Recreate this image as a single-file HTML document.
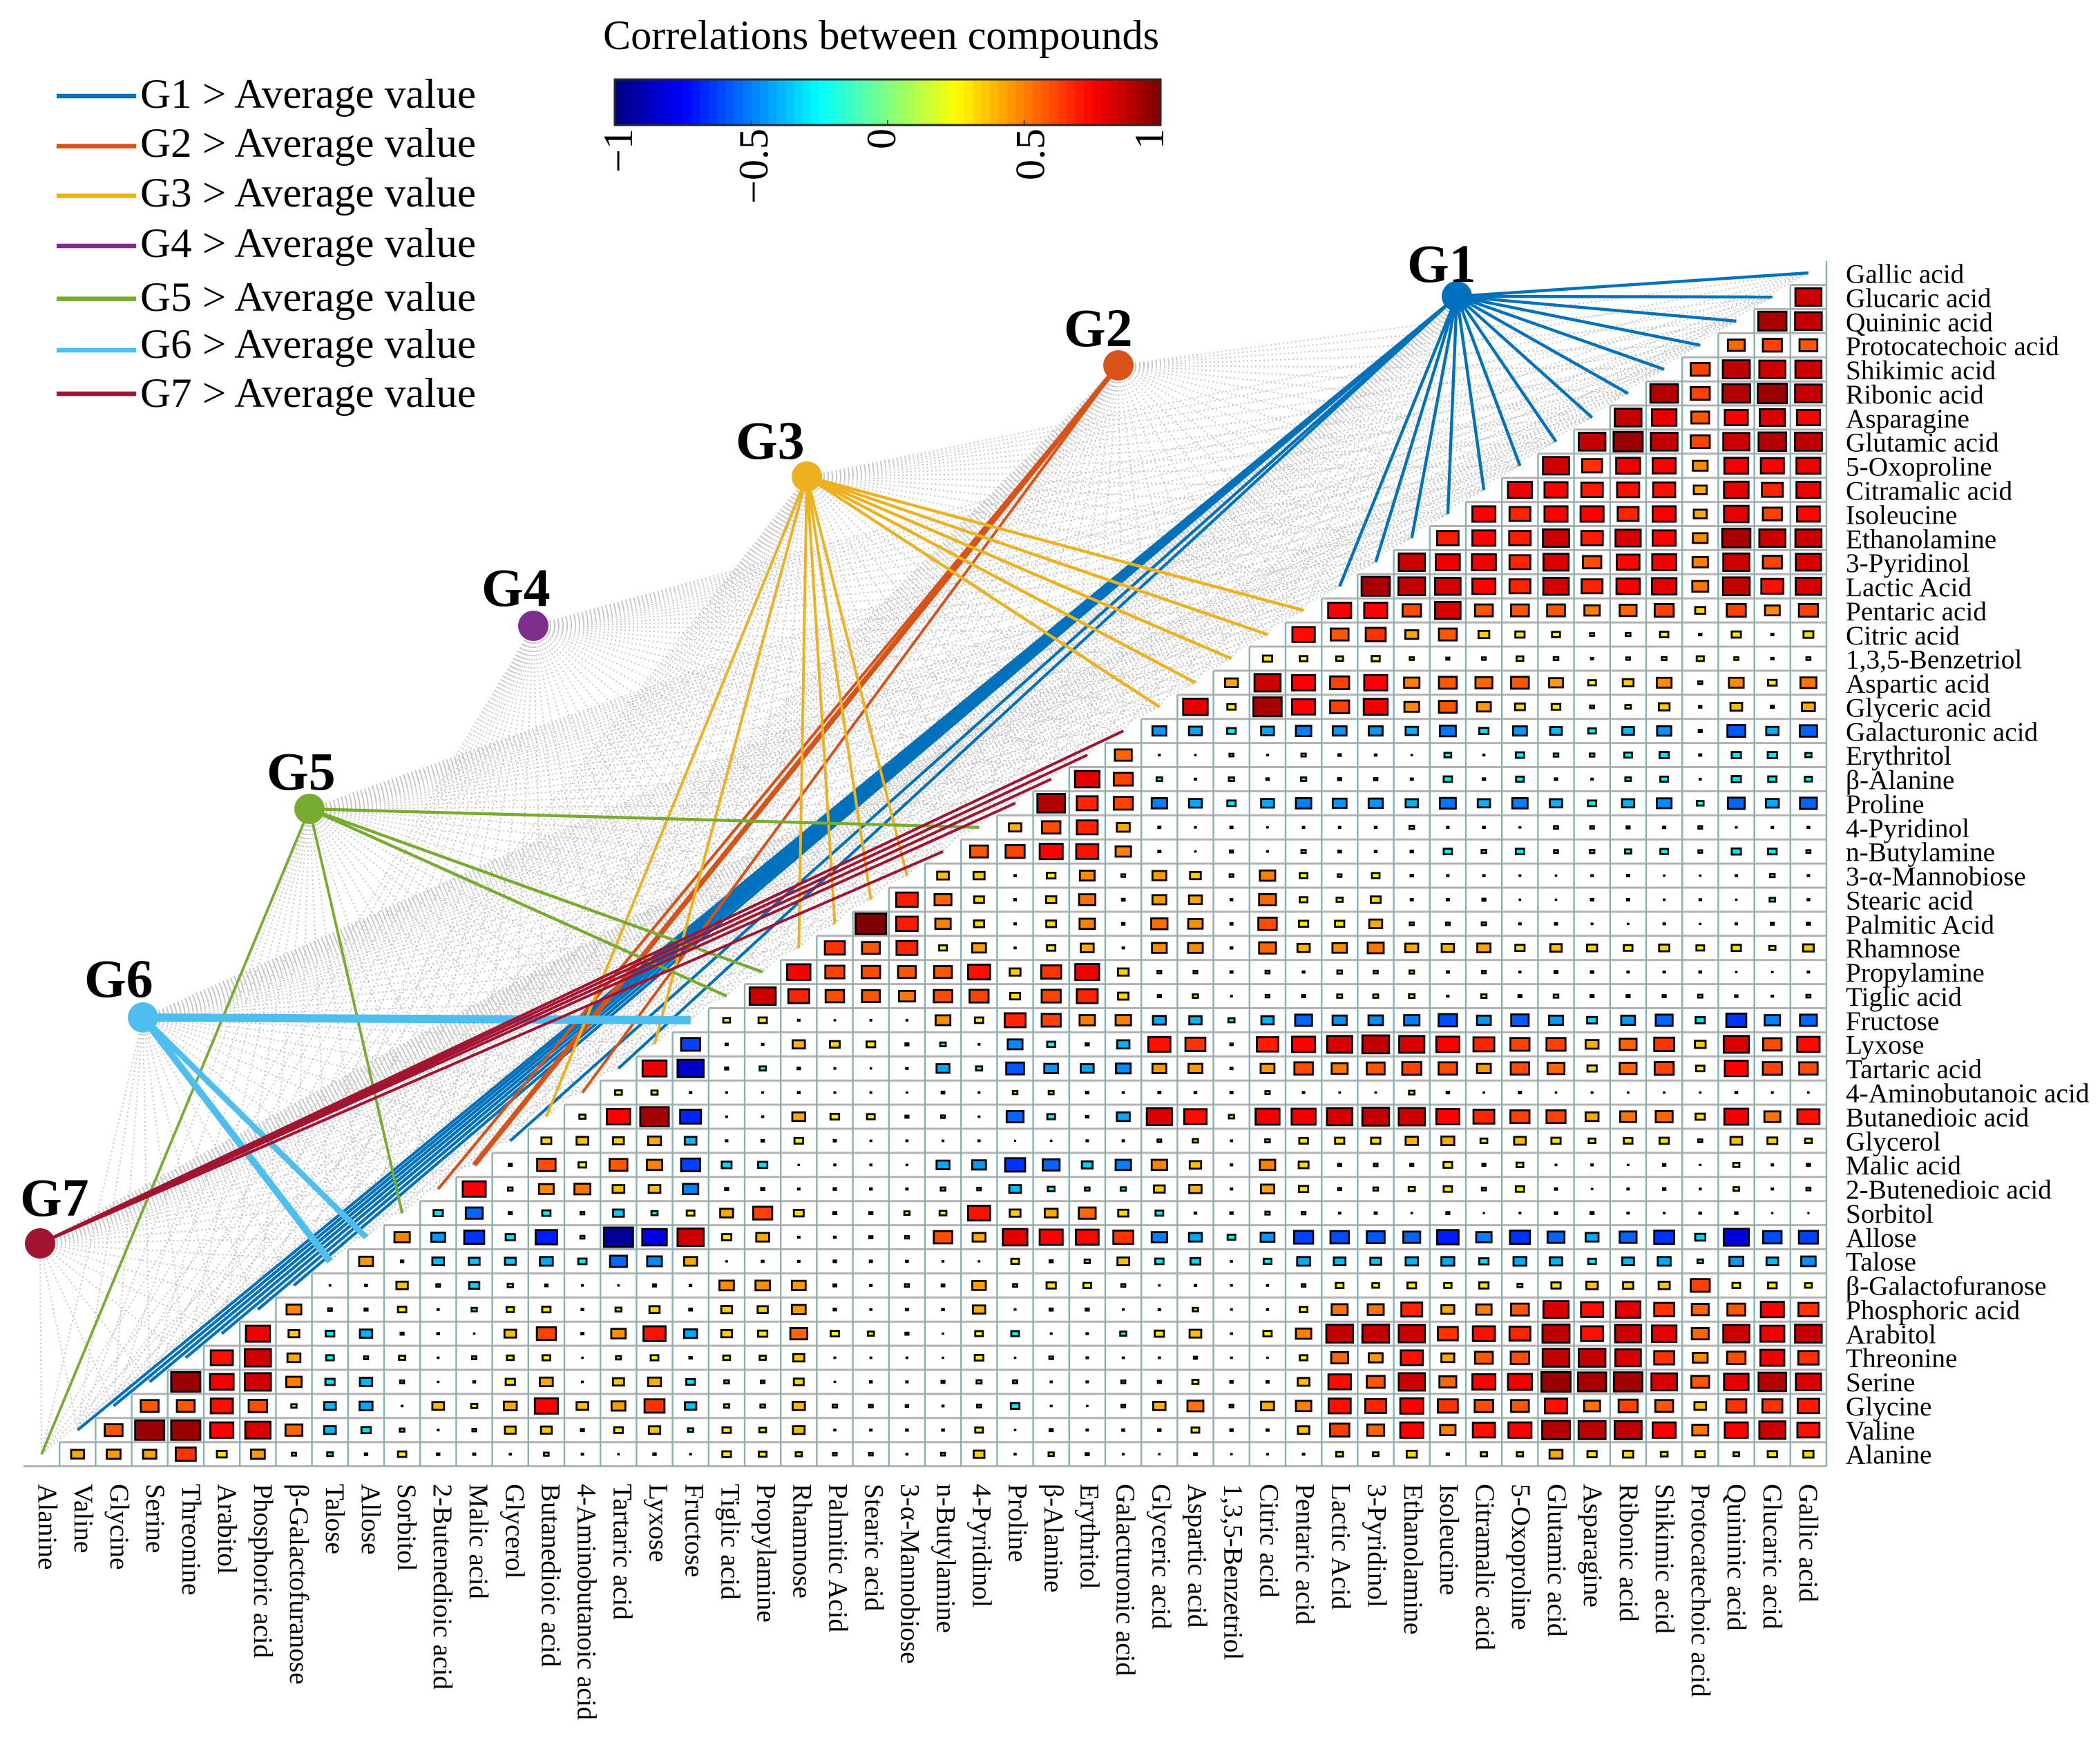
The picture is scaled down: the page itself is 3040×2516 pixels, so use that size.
<!DOCTYPE html>
<html lang="en">
<head>
<meta charset="utf-8">
<title>Correlations between compounds</title>
<style>
html,body{margin:0;padding:0;background:#fff}
svg{display:block}
text{font-family:"Liberation Serif",serif;fill:#000}
</style>
</head>
<body>
<svg id="chart" xmlns="http://www.w3.org/2000/svg" width="3040" height="2516" viewBox="0 0 3040 2516">
<rect x="0" y="0" width="3040" height="2516" fill="#fff"/>
<g id="grid"></g>
<g id="cells"></g>
<g id="dotted"></g>
<g id="links"></g>
<g id="nodes"></g>
<g id="xlabels"></g>
<g id="ylabels"></g>
<g id="legend"></g>
<g id="colorbar"></g>
<text x="873" y="71" font-size="60" textLength="805" lengthAdjust="spacingAndGlyphs">Correlations between compounds</text>
</svg>
<script>
const compounds = ["Alanine","Valine","Glycine","Serine","Threonine","Arabitol","Phosphoric acid","β-Galactofuranose","Talose","Allose","Sorbitol","2-Butenedioic acid","Malic acid","Glycerol","Butanedioic acid","4-Aminobutanoic acid","Tartaric acid","Lyxose","Fructose","Tiglic acid","Propylamine","Rhamnose","Palmitic Acid","Stearic acid","3-α-Mannobiose","n-Butylamine","4-Pyridinol","Proline","β-Alanine","Erythritol","Galacturonic acid","Glyceric acid","Aspartic acid","1,3,5-Benzetriol","Citric acid","Pentaric acid","Lactic Acid","3-Pyridinol","Ethanolamine","Isoleucine","Citramalic acid","5-Oxoproline","Glutamic acid","Asparagine","Ribonic acid","Shikimic acid","Protocatechoic acid","Quininic acid","Glucaric acid","Gallic acid"];

const corr00 = [.42,.45,.43,.65,.32,.45,.14,-.18,.08,.27,.08,.07,.04,.15,.05,.02,.08,.03,.28,.25,.2,.12,.12,.04,.13,.35,.04,.17,.1,.03,.02,.09,.02,.03,.05,.22,.18,.33,.08,.2,.2,.42,.3,.33,.22,.3,.18,.3,.33];
const corr01 = [.58,.95,.95,.75,.82,.55,-.38,-.3,.15,.03,-.12,.35,.35,.1,.28,.37,-.17,.27,.22,.38,.04,.05,.06,.06,.25,.02,.1,.05,.07,.08,.25,.08,.07,.37,.63,.55,.75,.5,.72,.75,.9,.88,.88,.75,.52,.75,.85,.72];
const corr02 = [.58,.58,.72,.6,.17,-.38,-.42,.03,.38,.2,.42,.75,.38,.45,.65,-.37,.17,.15,.4,.14,.12,.08,.04,.13,-.28,.03,.02,-.12,.4,.52,.12,.42,.5,.72,.68,.75,.65,.6,.58,.72,.52,.62,.58,.38,.65,.65,.7];
const corr03 = [.95,.77,.85,.5,-.3,-.4,.13,.02,.06,.3,.42,.03,.36,.42,-.28,.15,.12,.32,.02,.06,.05,-.1,.16,-.14,.04,.05,-.13,.1,.2,.08,.07,.38,.73,.58,.85,.55,.75,.78,.95,.92,.93,.83,.58,.8,.9,.82];
const corr04 = [.72,.85,.42,-.25,-.13,.2,.03,-.14,.22,.25,.02,.16,.25,.08,.22,.2,.36,.03,.03,.03,.02,.28,.02,.12,.05,.04,.04,.1,.03,.02,.25,.55,.45,.72,.42,.58,.6,.87,.87,.83,.65,.48,.6,.78,.66];
const corr05 = [.78,.35,-.28,-.4,.1,.06,.02,.38,.62,.07,.47,.72,-.42,.35,.3,.55,.27,.2,.1,.02,.25,-.25,.03,.05,-.2,.3,.38,.04,.27,.5,.87,.87,.85,.65,.72,.68,.88,.72,.85,.8,.55,.85,.78,.87];
const corr06 = [.48,-.12,-.1,.27,.04,-.17,.24,.27,.06,.19,.33,-.09,.35,.33,.45,.08,.04,.07,.06,.4,.03,.1,.1,.03,.05,.17,.03,.04,.25,.52,.52,.68,.42,.5,.58,.82,.72,.8,.65,.55,.58,.75,.65];
const corr07 = [.02,.06,.37,-.12,-.33,.17,.08,.03,.02,.1,.05,.47,.47,.45,.09,.05,.13,.09,.44,.13,.3,.25,.13,.02,.05,.03,.04,.12,.25,.22,.28,.24,.3,.16,.3,.37,.33,.36,.62,.25,.28,.22];
const corr08 = [.45,.08,-.38,-.35,-.35,-.42,-.27,-.55,-.48,.42,.02,.06,.05,-.08,-.07,-.06,.03,.02,.25,.1,.17,.38,-.27,-.32,.04,-.25,-.42,-.38,-.35,-.4,-.42,-.3,-.42,-.4,-.25,-.38,-.42,-.18,-.45,-.38,-.47];
const corr09 = [.5,-.45,-.65,-.3,-.7,-.13,-.95,-.8,.85,.3,.42,.05,.06,.1,.12,.6,.42,.8,.75,.74,.65,-.5,-.42,-.25,-.45,-.62,-.6,-.58,-.55,-.7,-.5,-.65,-.55,-.42,-.55,-.65,-.33,-.82,-.6,-.62];
const corr10 = [-.3,-.55,.1,-.27,-.12,-.35,-.2,.25,.42,.62,.32,.1,.1,.17,.22,.72,.35,.42,.55,.33,-.25,-.06,-.08,-.14,-.12,.05,.07,.02,-.1,.01,.03,.08,.1,.05,.03,.06,-.08,.01,.01];
const corr11 = [.75,.15,.48,.52,.38,.38,-.5,-.1,-.1,.05,.08,.06,.05,-.15,-.12,-.38,-.22,-.15,-.17,.35,.4,.05,.43,.3,.1,.15,.2,.27,.13,.27,.07,.02,.05,.08,.04,.18,.05,.13];
const corr12 = [.1,.6,.25,.58,.5,-.62,-.32,-.3,.02,.04,.04,.03,-.42,-.45,-.65,-.55,-.35,-.5,.5,.37,.05,.5,.32,.1,.12,.1,.28,.1,.22,.03,.05,.02,.08,.02,.2,.05,.1];
const corr13 = [.32,.38,.35,.42,-.38,.05,.08,.28,.07,.03,.04,.03,.04,.01,.02,.05,.05,.12,.17,.04,.15,.28,.3,.3,.4,.42,.22,.38,.3,.22,.28,.3,.13,.38,.32,.22];
const corr14 = [.2,.76,.93,-.68,.03,.04,.42,.28,.25,.1,-.12,.03,-.55,-.25,-.08,-.42,.82,.73,.17,.78,.78,.83,.87,.85,.75,.68,.62,.62,.42,.52,.55,.3,.78,.52,.72];
const corr15 = [.22,.2,.05,.03,.03,.06,.03,.03,.02,.09,.03,.15,.16,.08,.04,.07,.06,.07,.14,.05,.02,.02,.18,.08,.02,.07,.02,.03,.02,.02,.02,.06,.03,.02];
const corr16 = [.78,-.85,-.1,-.2,.08,.03,.02,.05,-.42,-.2,-.58,-.45,-.42,-.48,.45,.45,.07,.45,.6,.52,.58,.62,.6,.45,.6,.55,.3,.55,.62,.27,.75,.62,.6];
const corr17 = [-.62,.07,.05,.4,.32,.28,.1,-.18,.03,-.48,-.26,-.1,-.4,.72,.65,.08,.7,.75,.82,.87,.82,.75,.68,.62,.62,.42,.55,.65,.35,.82,.6,.73];
const corr18 = [.22,.27,.05,.02,.03,.03,.48,.27,.68,.62,.5,.5,-.42,-.4,-.2,-.4,-.55,-.46,-.47,-.5,-.6,-.45,-.57,-.45,-.32,-.45,-.55,-.3,-.65,-.5,-.55];
const corr19 = [.85,.68,.6,.58,.52,.6,.62,.32,.62,.68,.34,.1,.17,.03,.12,.1,.16,.16,.18,.05,.17,.1,.15,.1,.1,.1,.14,.08,.05,.13];
const corr20 = [.76,.62,.6,.58,.58,.72,.35,.65,.78,.35,.12,.12,.07,.13,.06,.15,.13,.15,.07,.12,.04,.1,.08,.05,.05,.06,.02,.02,.05];
const corr21 = [.65,.58,.68,.25,.45,.04,.27,.42,.05,.48,.48,.06,.55,.4,.47,.52,.42,.4,.43,.3,.37,.33,.28,.33,.25,.3,.2,.35];
const corr22 = [1,.7,.5,.33,.05,.32,.5,.08,.53,.47,.07,.6,.3,.3,.42,.13,.12,.14,.05,.07,.03,.02,.05,.02,.05,-.1,.1];
const corr23 = [.7,.55,.32,.06,.33,.53,.09,.45,.42,.06,.55,.25,.2,.32,.07,.07,.1,.02,.02,.08,.07,.03,.05,.02,-.18,.06];
const corr24 = [.38,.36,.05,.28,.48,.12,.45,.35,.12,.5,.25,.12,.25,.08,.05,.05,.03,.02,.05,.07,.02,.02,.05,-.15,.05];
const corr25 = [.58,.62,.75,.72,.5,.07,.02,-.1,.03,-.14,-.09,-.06,-.08,-.27,-.15,-.27,-.13,-.15,-.2,-.25,-.12,-.3,-.28,-.13];
const corr26 = [.4,.6,.68,.42,.07,.03,.07,.02,.05,.05,.06,.15,.05,.06,.03,.13,.12,.1,.07,.12,.03,.05,.06];
const corr27 = [.9,.68,.62,-.5,-.42,-.27,-.42,-.5,-.45,-.46,-.4,-.52,-.4,-.5,-.4,-.27,-.4,-.48,-.22,-.55,-.42,-.55];
const corr28 = [.8,.62,-.18,-.05,-.17,-.08,-.17,-.1,-.11,-.07,-.27,-.08,-.25,-.08,-.05,-.18,-.25,-.04,-.3,-.27,-.23];
const corr29 = [.55,.03,.02,-.13,.03,-.14,-.08,-.06,.02,-.22,.04,-.27,-.15,-.15,-.25,-.3,-.07,-.3,-.3,-.2];
const corr30 = [-.45,-.42,-.28,-.42,-.5,-.45,-.45,-.4,-.52,-.3,-.45,-.38,-.25,-.38,-.46,-.1,-.58,-.4,-.56];
const corr31 = [.8,.27,.92,.75,.62,.78,.48,.58,.45,.32,.28,.13,.18,.35,.08,.38,.1,.42];
const corr32 = [.42,.85,.75,.62,.75,.5,.58,.55,.58,.45,.25,.35,.48,.13,.48,.28,.52];
const corr33 = [.3,.25,.22,.26,.13,.1,.12,.22,.15,.07,.12,.15,.23,.13,.08,.13];
const corr34 = [.73,.58,.65,.42,.58,.35,.3,.26,.13,.15,.27,.08,.3,.07,.32];
const corr35 = [.75,.75,.6,.83,.58,.58,.58,.5,.55,.62,.33,.62,.48,.62];
const corr36 = [.92,.87,.83,.75,.68,.83,.68,.76,.8,.52,.87,.72,.83];
const corr37 = [.85,.78,.78,.68,.82,.6,.74,.78,.5,.85,.62,.82];
const corr38 = [.7,.75,.7,.85,.7,.82,.75,.48,.92,.85,.85];
const corr39 = [.75,.68,.75,.75,.68,.75,.42,.8,.62,.74];
const corr40 = [.78,.75,.7,.72,.72,.42,.8,.68,.78];
const corr41 = [.85,.65,.78,.75,.48,.78,.75,.78];
const corr42 = [.87,.95,.87,.62,.85,.9,.88];
const corr43 = [.87,.8,.58,.75,.82,.75];
const corr44 = [.9,.62,.9,.95,.87];
const corr45 = [.62,.88,.85,.85];
const corr46 = [.55,.62,.58];
const corr47 = [.92,.87];
const corr48 = [.85];
const corrRows = [corr00,corr01,corr02,corr03,corr04,corr05,corr06,corr07,corr08,corr09,corr10,corr11,corr12,corr13,corr14,corr15,corr16,corr17,corr18,corr19,corr20,corr21,corr22,corr23,corr24,corr25,corr26,corr27,corr28,corr29,corr30,corr31,corr32,corr33,corr34,corr35,corr36,corr37,corr38,corr39,corr40,corr41,corr42,corr43,corr44,corr45,corr46,corr47,corr48];

const groupNames = ["G1","G2","G3","G4","G5","G6","G7"];
const groupColors = ["#0072BD","#D95319","#EDB120","#7E2F8E","#77AC30","#4DBEEE","#A2142F"];
const g1Targets = [1,2,3,4,5,6,7,13,16,36,37,38,39,40,41,42,43,44,45,46,47,48,49];
const g1Widths  = [4.2,4.2,4.2,4.2,4.2,4.2,4.2,4.2,4.2,4.4,4.4,4.4,4.4,4.4,4.4,4.4,4.4,4.4,4.4,4.4,4.4,4.4,4.4];
const g2Targets = [11,12,15];
const g2Widths  = [4.2,7.5,4];
const g3Targets = [14,17,21,22,23,24,31,32,33,34,35];
const g3Widths  = [4,4,4,4,4,4,4.4,4.4,4.4,4.4,4.4];
const g4Targets = [];
const g4Widths  = [];
const g5Targets = [0,10,19,20,26];
const g5Widths  = [3.8,3.8,4.4,4.4,4.4];
const g6Targets = [8,9,18];
const g6Widths  = [10,8.5,12];
const g7Targets = [25,27,28,29,30];
const g7Widths  = [4,4,4,4,4];
const groupTargets = [g1Targets,g2Targets,g3Targets,g4Targets,g5Targets,g6Targets,g7Targets];
const groupWidths = [g1Widths,g2Widths,g3Widths,g4Widths,g5Widths,g6Widths,g7Widths];

const colorbarTicks = [-1,-0.5,0,0.5,1];
const colorbarTickLabels = ["−1","−0.5","0","0.5","1"];

/* layout */
const NS = "http://www.w3.org/2000/svg";
const gridLeft = 34, gridBottom = 2122.6, cellW = 52.2, cellH = 34.9, nCols = compounds.length;
const nodeLayout = [[2109,429,2037,408],[1619,529,1540,501],[1168,690,1065,664],[772,906,697,877],[448,1171,386,1143],[207,1473,122,1443],[58,1800,29,1760]];
const legendLineY = [139,211.5,283.5,356,432.6,507,570];
const legendTextY = [156,227,299,372,450,518,589];
const cbLeft = 890, cbRight = 1680, cbTop = 115, cbBottom = 181, cbLevels = 64;
const cbLabelShift = [25,23.5,11,29,4];

function colX(c){return gridLeft + cellW*(c+0.5);}
function rowY(r){return gridBottom - cellH*(r+0.5);}
function clamp(v){return Math.max(0,Math.min(1,v));}
function jet(v){
  const t=(v+1)/2;
  const r=clamp(Math.min(4*t-1.5,-4*t+4.5));
  const g=clamp(Math.min(4*t-0.5,-4*t+3.5));
  const b=clamp(Math.min(4*t+0.5,-4*t+2.5));
  return "rgb("+Math.round(r*255)+","+Math.round(g*255)+","+Math.round(b*255)+")";
}
function cbX(v){return cbLeft + (cbRight-cbLeft)*(v+1)/2;}
function mk(tag,attrs,parent){
  const el=document.createElementNS(NS,tag);
  for(const k in attrs){el.setAttribute(k,attrs[k]);}
  parent.appendChild(el);
  return el;
}
const gGrid=document.getElementById("grid"), gCells=document.getElementById("cells"), gDotted=document.getElementById("dotted"), gLinks=document.getElementById("links"), gNodes=document.getElementById("nodes"), gX=document.getElementById("xlabels"), gY=document.getElementById("ylabels"), gLegend=document.getElementById("legend"), gBar=document.getElementById("colorbar");

/* grid */
const gridRight = gridLeft + cellW*nCols;
const baseLine = mk("line",{x1:gridLeft,x2:gridRight,y1:gridBottom,y2:gridBottom,stroke:"#b2b2b2","stroke-width":3},gGrid);


for(let i=0;i<nCols-1;i++){
  const y=gridBottom-cellH*(i+1);
  const h=mk("line",{x1:gridLeft+cellW*(i+1),x2:gridRight,y1:y,y2:y,stroke:"#b2b2b2","stroke-width":3},gGrid);
  
  
}
for(let k=1;k<=nCols;k++){
  const x=gridLeft+cellW*k;
  const v=mk("line",{x1:x,x2:x,y1:gridBottom,y2:gridBottom-cellH*k,stroke:"#88b2b2","stroke-width":2.4},gGrid);
  
  
}

/* cells */
corrRows.forEach(function(row,r){
  row.forEach(function(val,j){
    const c=r+1+j;
    const w=0.85*Math.abs(val)*cellW, h=0.85*Math.abs(val)*cellH;
    const cell=mk("rect",{x:colX(c)-w/2,y:rowY(r)-h/2,width:w,height:h,fill:jet(val),stroke:"#000","stroke-width":2.8},gCells);
    
    
  });
});

/* links */
groupNames.forEach(function(name,g){
  const n=nodeLayout[g];
  compounds.forEach(function(_,i){
    if(groupTargets[g].indexOf(i)>=0){return;}
    const d=mk("line",{x1:n[0],y1:n[1],x2:colX(i),y2:rowY(i),stroke:"#c6c6c6","stroke-width":2,"stroke-dasharray":"2 4","shape-rendering":"crispEdges"},gDotted);
    
    
  });
});
groupNames.forEach(function(name,g){
  const n=nodeLayout[g];
  groupTargets[g].forEach(function(i,k){
    const l=mk("line",{x1:n[0],y1:n[1],x2:colX(i),y2:rowY(i),stroke:groupColors[g],"stroke-width":groupWidths[g][k]},gLinks);
    
    
  });
});

/* nodes */
groupNames.forEach(function(name,g){
  const n=nodeLayout[g];
  const dot=mk("circle",{cx:n[0],cy:n[1],r:22,fill:groupColors[g]},gNodes);
  
  
  const t=mk("text",{x:n[2],y:n[3],"font-size":78,"font-weight":"bold"},gNodes);
  t.textContent=name;
  
  
});

/* labels */
compounds.forEach(function(name,i){
  const bx=56+52.02*i;
  const xt=mk("text",{x:0,y:0,"font-size":39.3,transform:"translate("+bx+",2148) rotate(90)"},gX);
  xt.textContent=name;
  if(name==="4-Aminobutanoic acid"){
    xt.setAttribute('textLength', '342');
    xt.setAttribute('lengthAdjust', 'spacingAndGlyphs');
  }
  
  
  const yt=mk("text",{x:2672,y:2118.7-34.88*i,"font-size":39.3},gY);
  yt.textContent=name;
  
  
});

/* legend */
groupNames.forEach(function(name,g){
  const ln=mk("line",{x1:82,x2:197,y1:legendLineY[g],y2:legendLineY[g],stroke:groupColors[g],"stroke-width":6.5},gLegend);
  
  
  const tx=mk("text",{x:203,y:legendTextY[g],"font-size":60,textLength:486,lengthAdjust:"spacingAndGlyphs"},gLegend);
  tx.textContent=name+" > Average value";
  
  
});

/* colorbar */
for(let k=0;k<cbLevels;k++){
  const v0=-1+2*k/cbLevels, v1=-1+2*(k+1)/cbLevels;
  const s=mk("rect",{x:cbX(v0),y:cbTop,width:cbX(v1)-cbX(v0)+0.6,height:cbBottom-cbTop,fill:jet((v0+v1)/2)},gBar);
  
  
}
const cbFrame=mk("rect",{x:cbLeft,y:cbTop,width:cbRight-cbLeft,height:cbBottom-cbTop,fill:"none",stroke:"#262626","stroke-width":3},gBar);


colorbarTicks.forEach(function(v,k){
  if(k>0&&k<colorbarTicks.length-1){
    const tk=mk("line",{x1:cbX(v),x2:cbX(v),y1:cbBottom,y2:cbBottom-7,stroke:"#262626","stroke-width":1.5},gBar);
    
    
  }
  const lb=mk("text",{x:0,y:0,"font-size":60,"text-anchor":"end",transform:"translate("+(cbX(v)+cbLabelShift[k])+",186) rotate(-90)"},gBar);
  lb.textContent=colorbarTickLabels[k];
  
  
});
</script>
</body>
</html>
